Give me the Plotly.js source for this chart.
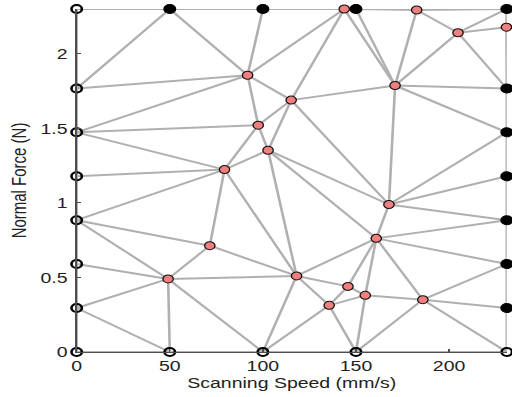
<!DOCTYPE html>
<html><head><meta charset="utf-8">
<script src="https://cdn.plot.ly/plotly-3.0.1.min.js"></script>
<style>
html,body{margin:0;padding:0;overflow:hidden;background:#fff;}
#wrap{width:512px;height:397px;overflow:hidden;}
#plot{width:394px;height:397px;transform:scaleX(1.2995);transform-origin:0 0;}
</style></head><body>
<div id="wrap"><div id="plot"></div></div>
<script>
// Boundary nodes drawn hollow (left and bottom edges)
const hollowNames = ['L0','L1','L2','L3','L4','L5','L6','L7','B1','B2','B3','B4'];
const hollowX = [0,0,0,0,0,0,0,0,50,100,150,231];
const hollowY = [0,0.295,0.59,0.884,1.178,1.473,1.767,2.30,0,0,0,0];
// Boundary nodes drawn filled (top and right edges)
const filledNames = ['T1','T2','T3','T4','R1','R2','R3','R4','R5','R6'];
const filledX = [50,100,150,231,231,231,231,231,231,231];
const filledY = [2.30,2.30,2.30,2.30,0.295,0.59,0.884,1.178,1.473,1.767];
// Interior / sample nodes (red)
const redNames = ['P1','P2','P3','P4','P5','P6','P7','P8','P9','P10','P11','P12','P13','P14','P15','P16','P17','P18','P19'];
const redX = [91.8,97.5,79.4,143.7,182.6,204.8,230.8,171,115.2,102.8,167.7,160.9,118.1,145.7,155,135.6,185.9,71.5,49.1];
const redY = [1.856,1.521,1.223,2.30,2.293,2.141,2.178,1.787,1.689,1.353,0.989,0.762,0.510,0.440,0.380,0.313,0.351,0.713,0.490];
// Triangulation edges
const edges = [
 ['L0','L1'],['L1','L2'],['L2','L3'],['L3','L4'],['L4','L5'],['L5','L6'],['L6','L7'],['L7','T1'],['T1','T2'],['T2','P4'],
 ['P4','T3'],['T3','P5'],['P5','T4'],['T4','P7'],['P7','R6'],['R6','R5'],['R5','R4'],['R4','R3'],['R3','R2'],['R2','R1'],
 ['R1','B4'],['B4','B3'],['B3','B2'],['B2','B1'],['B1','L0'],
 ['L6','T1'],['T1','P1'],['L6','P1'],['T2','P1'],['L5','P1'],['P1','P4'],['P1','P9'],['P1','P2'],['L5','P2'],['L5','P3'],
 ['L4','P3'],['L3','P3'],['P3','P2'],['P3','P10'],['P3','P18'],['P3','P13'],['P2','P9'],['P2','P10'],['P9','P4'],['P9','P8'],
 ['P9','P10'],['P9','P11'],['P4','P8'],['T3','P8'],['P5','P8'],['P5','P6'],['P6','T4'],['P6','P7'],['P6','R6'],['P6','P8'],
 ['P8','R6'],['P8','R5'],['P8','P11'],['P11','R5'],['P11','R4'],['P11','R3'],['P11','P12'],['P11','P10'],['P10','P12'],['P10','P13'],
 ['P12','R3'],['P12','R2'],['P12','P17'],['P12','P15'],['P12','P14'],['P12','P13'],['P13','P14'],['P13','P16'],['P13','P19'],['P13','P18'],
 ['P13','B2'],['P14','P16'],['P14','P15'],['P15','P16'],['P16','B3'],['P16','B2'],['P15','B3'],['P15','P17'],['P17','B3'],['P17','B4'],
 ['P17','R1'],['P17','R2'],['L3','P18'],['L3','P19'],['L2','P19'],['L1','P19'],['L1','B1'],['P19','B1'],['P19','B2'],['P19','P18']
];
const xTicks = [0,50,100,150,200];
const yTicks = [0,0.5,1,1.5,2];
const yTickText = ['0','0.5','1','1.5','2'];

const pos = {};
hollowNames.forEach((n,i)=>pos[n]=[hollowX[i],hollowY[i]]);
filledNames.forEach((n,i)=>pos[n]=[filledX[i],filledY[i]]);
redNames.forEach((n,i)=>pos[n]=[redX[i],redY[i]]);
const ex=[], ey=[];
edges.forEach(([a,b])=>{ex.push(pos[a][0],pos[b][0],null);ey.push(pos[a][1],pos[b][1],null);});

const font = 'Liberation Sans, Arial, Helvetica, sans-serif';
const traces = [
 {type:'scatter',mode:'lines',x:ex,y:ey,line:{color:'#b0b0b0',width:2},cliponaxis:false,hoverinfo:'skip'},
 {type:'scatter',mode:'markers',x:hollowX,y:hollowY,cliponaxis:false,hoverinfo:'skip',
  marker:{size:8,color:'rgba(0,0,0,0)',line:{color:'#000',width:2}}},
 {type:'scatter',mode:'markers',x:filledX,y:filledY,cliponaxis:false,hoverinfo:'skip',
  marker:{size:9,color:'#000',line:{color:'#000',width:1}}},
 {type:'scatter',mode:'markers',x:redX,y:redY,cliponaxis:false,hoverinfo:'skip',
  marker:{size:8,color:'#f27f7f',line:{color:'#111',width:1}}}
];
const axisCommon = {showgrid:false,zeroline:false,showline:true,linecolor:'#4d4d4d',linewidth:1,
 ticks:'inside',ticklen:3,tickcolor:'#4d4d4d',tickfont:{family:font,size:15,color:'#222'},fixedrange:true};
const layout = {
 width:394,height:397,margin:{l:59,r:4,t:9,b:45},showlegend:false,
 paper_bgcolor:'#fff',plot_bgcolor:'#fff',
 xaxis:Object.assign({},axisCommon,{range:[0,231],tickvals:xTicks,ticktext:xTicks.map(String),
   title:{text:'Scanning Speed (mm/s)',font:{family:font,size:15,color:'#222'},standoff:2}}),
 yaxis:Object.assign({},axisCommon,{range:[0,2.30],tickvals:yTicks,ticktext:yTickText,ticklabelstandoff:3,
   title:{text:'Normal Force (N)',font:{family:font,size:15,color:'#222'},standoff:6}})
};
Plotly.newPlot('plot',traces,layout,{staticPlot:true,displayModeBar:false});
</script>
</body></html>
